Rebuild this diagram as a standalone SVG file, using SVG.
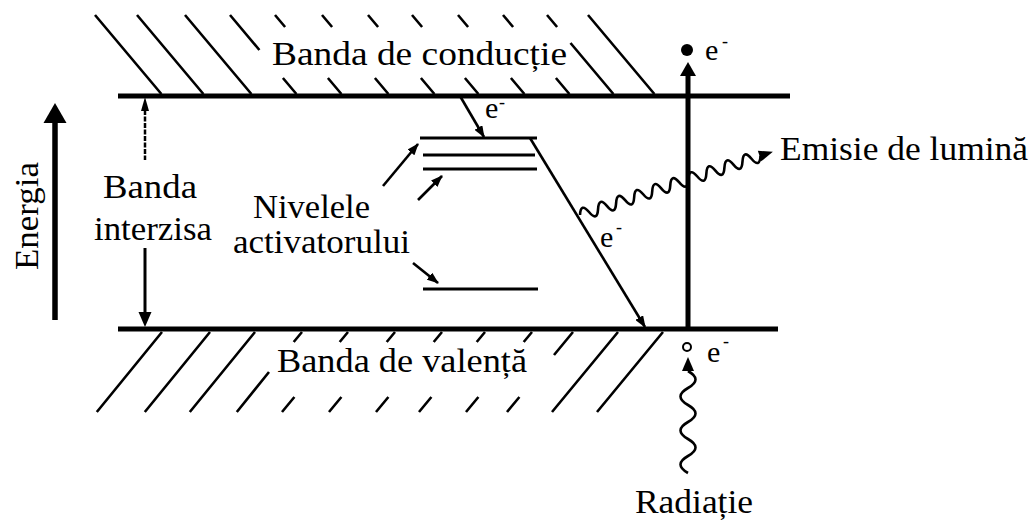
<svg xmlns="http://www.w3.org/2000/svg" width="1034" height="520" viewBox="0 0 1034 520">
<defs>
<style>
text{font-family:'Liberation Serif','Times New Roman','DejaVu Serif',serif;fill:#000}
.t{font-size:34px}
.e{font-size:30px}
.m{font-size:18px}
.band{stroke:#000;stroke-width:5;fill:none}
.h{stroke:#000;stroke-width:2.6;fill:none}
.lv{stroke:#000;stroke-width:3;fill:none}
.c{stroke:#000;stroke-width:2.6;fill:none}
.w{stroke:#000;stroke-width:2.6;fill:none}
</style>
<marker id="ah" viewBox="0 0 12 9" markerWidth="12" markerHeight="9" refX="11" refY="4.5" orient="auto" markerUnits="userSpaceOnUse">
<path d="M0,0 L12,4.5 L0,9 z" fill="#000"/>
</marker>
</defs>
<rect width="1034" height="520" fill="#fff"/>

<g id="conduction-band">
<line class="band" x1="118" y1="96" x2="790" y2="96"/>
<path class="h" d="M95,15 L161.4,94 M137,15 L203.4,94 M185,15 L251.4,94 M230,15 L259.4,50 M282.9,78 L296.4,94 M275,15 L285.1,27 M327.9,78 L341.4,94 M322,15 L332.1,27 M374.9,78 L388.4,94 M368,15 L378.1,27 M420.9,78 L434.4,94 M412,15 L422.1,27 M464.9,78 L478.4,94 M458,15 L468.1,27 M510.9,78 L524.4,94 M503,15 L513.1,27 M555.9,78 L569.4,94 M547,15 L557.1,27 M570.5,43 L613.4,94 M588,15 L654.4,94"/>
<text class="t" x="272" y="65" textLength="295" lengthAdjust="spacingAndGlyphs">Banda de conducție</text>
</g>

<g id="valence-band">
<line class="band" x1="118" y1="329" x2="778" y2="329"/>
<path class="h" d="M162,332 L96.8,412 M210,332 L144.8,412 M255,332 L189.8,412 M302,332 L293.7,342 M269,372 L236.8,412 M348,332 L339.7,342 M294.4,397 L282,412 M395,332 L386.7,342 M341.4,397 L329,412 M442,332 L433.7,342 M388.4,397 L376,412 M485,332 L476.7,342 M431.4,397 L419,412 M532,332 L523.7,342 M478.4,397 L466,412 M573,332 L554,355 M519.4,397 L507,412 M618,332 L552,412 M663,332 L597,412"/>
<text class="t" x="277" y="372" textLength="250" lengthAdjust="spacingAndGlyphs">Banda de valență</text>
</g>

<g id="activator-levels">
<line class="lv" x1="420" y1="138" x2="537" y2="138"/>
<line class="lv" x1="423" y1="155" x2="535" y2="155"/>
<line class="lv" x1="423" y1="169" x2="537" y2="169"/>
<line class="lv" x1="423" y1="289" x2="538" y2="289"/>
<text class="t" x="253" y="218" textLength="117" lengthAdjust="spacingAndGlyphs">Nivelele</text>
<text class="t" x="233" y="253" textLength="177" lengthAdjust="spacingAndGlyphs">activatorului</text>
</g>

<g id="energy-axis">
<line x1="55" y1="320" x2="55" y2="120" stroke="#000" stroke-width="5.5"/>
<polygon points="55,103 43.5,123 66.5,123" fill="#000"/>
<text class="t" transform="translate(38,216) rotate(-90)" text-anchor="middle" textLength="108" lengthAdjust="spacingAndGlyphs">Energia</text>
</g>

<g id="band-gap">
<polygon points="145,97 141,111 149,111" fill="#000"/>
<line x1="145" y1="110" x2="145" y2="160" stroke="#000" stroke-width="2.5" stroke-dasharray="5 1.5"/>
<line x1="145" y1="248" x2="145" y2="314" stroke="#000" stroke-width="3"/>
<polygon points="145,327 138.5,312 151.5,312" fill="#000"/>
<text class="t" x="150" y="198" text-anchor="middle" textLength="94" lengthAdjust="spacingAndGlyphs">Banda</text>
<text class="t" x="153" y="240" text-anchor="middle" textLength="118" lengthAdjust="spacingAndGlyphs">interzisa</text>
</g>

<g id="excitation">
<line x1="688" y1="329" x2="688" y2="73" stroke="#000" stroke-width="5"/>
<polygon points="688,62 680,76 696,76" fill="#000"/>
<circle cx="687" cy="50" r="6" fill="#000"/>
<text class="e" x="705" y="60">e<tspan class="m" x="722" y="46.5">-</tspan></text>
</g>

<g id="radiation">
<circle cx="687" cy="347" r="4" fill="#fff" stroke="#000" stroke-width="2"/>
<polygon points="688,357 682,371 694,371" fill="#000"/>
<path class="w" d="M688,371 q15,8.5 0,17 t0,17 t0,17 t0,17 t0,17 t0,17"/>
<text class="e" x="707" y="362">e<tspan class="m" x="723" y="346.5">-</tspan></text>
<text class="t" x="635" y="513" textLength="118" lengthAdjust="spacingAndGlyphs">Radiație</text>
</g>

<g id="light-emission">
<g transform="translate(580,215) rotate(-18.17)">
<path class="w" d="M0,0 q4.75,-12 9.5,0 t9.5,0 t9.5,0 t9.5,0 t9.5,0 t9.5,0 t9.5,0 t9.5,0 t9.5,0 t9.5,0 t9.5,0 t9.5,0 t9.5,0 t9.5,0 t9.5,0 t9.5,0 t9.5,0 t9.5,0 t9.5,0 t9.5,0"/>
<polygon points="189,-5.5 203,0 189,5.5" fill="#000"/>
</g>
<text class="t" x="780" y="160" textLength="248" lengthAdjust="spacingAndGlyphs">Emisie de lumină</text>
</g>

<g id="connectors">
<line class="c" x1="460" y1="96" x2="484" y2="137" marker-end="url(#ah)"/>
<line class="c" x1="530" y1="138" x2="645" y2="327" marker-end="url(#ah)"/>
<line class="c" x1="383" y1="186" x2="418" y2="144" marker-end="url(#ah)"/>
<line class="c" x1="418" y1="200" x2="442" y2="176" marker-end="url(#ah)"/>
<line class="c" x1="413" y1="263" x2="438" y2="283" marker-end="url(#ah)"/>
<text class="e" x="485" y="118">e<tspan class="m" x="499" y="107.5">-</tspan></text>
<text class="e" x="600" y="247">e<tspan class="m" x="616" y="232.5">-</tspan></text>
</g>
</svg>
